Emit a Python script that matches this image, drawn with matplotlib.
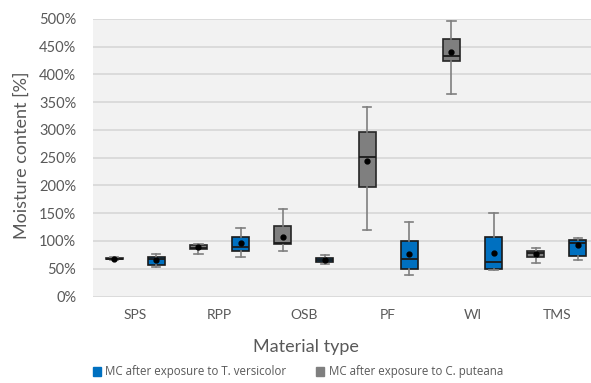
import matplotlib
matplotlib.use("Agg")
import matplotlib.pyplot as plt
from matplotlib.patches import Patch
from matplotlib.ticker import FuncFormatter

plt.rcParams['font.family'] = ['Lato', 'DejaVu Sans']

categories = ["SPS", "RPP", "OSB", "PF", "WI", "TMS"]

# C. puteana (gray)
cp_whislo = [66, 76, 82, 119, 364, 60]
cp_q1     = [67, 85, 94, 197, 424, 72]
cp_med    = [68, 88, 96, 251, 433, 78]
cp_q3     = [69.5, 92, 127, 296, 464, 82]
cp_whishi = [71, 95, 158, 341, 497, 88]
cp_mean   = [68, 90, 107, 244, 440, 77]

# T. versicolor (blue)
tv_whislo = [54, 72, 59, 38, 48, 66]
tv_q1     = [57, 82, 62, 50, 50, 73]
tv_med    = [67, 90, 65, 67, 63, 96]
tv_q3     = [72, 107, 69, 100, 107, 101]
tv_whishi = [76, 123, 74, 134, 151, 106]
tv_mean   = [66, 97, 66, 76, 79, 92]

series_labels = ["MC after exposure to T. versicolor", "MC after exposure to C. puteana"]
yticks = [0, 50, 100, 150, 200, 250, 300, 350, 400, 450, 500]

BLUE = "#0070C0"
GRAY = "#7F7F7F"
TXT = "#595959"

W, H = 591, 383
fig = plt.figure(figsize=(W / 100, H / 100), dpi=100)
fig.patch.set_facecolor("white")
left, right = 93, 599
bottom, top = 296.5, 18.9
ax = fig.add_axes([left / W, (H - bottom) / H, (right - left) / W, (bottom - top) / H])
ax.set_facecolor("#F2F2F2")


def stats(lo, q1, med, q3, hi, mean):
    return [dict(whislo=a, q1=b, med=c, q3=d, whishi=e, mean=f, fliers=[])
            for a, b, c, d, e, f in zip(lo, q1, med, q3, hi, mean)]


n = len(categories)
common = dict(widths=0.2, showmeans=True, patch_artist=True, showfliers=False,
              whiskerprops=dict(color=GRAY, lw=1.2),
              capprops=dict(color=GRAY, lw=1.2),
              medianprops=dict(color="#1a1a1a", lw=1.3),
              meanprops=dict(marker="o", markerfacecolor="black", markeredgecolor="black", markersize=3.5),
              zorder=3)
ax.bxp(stats(cp_whislo, cp_q1, cp_med, cp_q3, cp_whishi, cp_mean),
       positions=[i - 0.25 for i in range(n)],
       boxprops=dict(facecolor=GRAY, edgecolor="#262626", lw=1.2), **common)
ax.bxp(stats(tv_whislo, tv_q1, tv_med, tv_q3, tv_whishi, tv_mean),
       positions=[i + 0.25 for i in range(n)],
       boxprops=dict(facecolor=BLUE, edgecolor="#1a1a1a", lw=1.2), **common)

ax.set_xlim(-0.5, n - 0.5)
ax.set_ylim(0, 500)
ax.set_yticks(yticks)
ax.yaxis.set_major_formatter(FuncFormatter(lambda v, p: f"{int(v)}%"))
ax.set_xticks(range(n))
ax.set_xticklabels(categories)
ax.tick_params(axis="both", length=0, colors=TXT, labelsize=10.5)
ax.tick_params(axis="x", pad=9, labelsize=10)
ax.tick_params(axis="y", pad=12)
ax.grid(axis="y", color="#D9D9D9", lw=1.3, zorder=0)
ax.set_axisbelow(True)
for s in ax.spines.values():
    s.set_visible(False)

fig.text(22 / W, 1 - 155 / H, "Moisture content [%]", rotation=90, ha="center", va="center",
         color=TXT, fontsize=13)
fig.text(306 / W, 1 - 347 / H, "Material type", ha="center", va="center", color=TXT, fontsize=13)

handles = [Patch(facecolor=BLUE, edgecolor=BLUE), Patch(facecolor=GRAY, edgecolor=GRAY)]
leg = fig.legend(handles, series_labels, loc="center", bbox_to_anchor=(298 / W, 1 - 372 / H),
                 ncol=2, frameon=False, prop=dict(family=["Open Sans", "DejaVu Sans"], size=8.3),
                 handlelength=0.7, handleheight=0.7, handletextpad=0.35, columnspacing=2.6)
for t in leg.get_texts():
    t.set_color(TXT)

fig.savefig("out.png", dpi=100)
